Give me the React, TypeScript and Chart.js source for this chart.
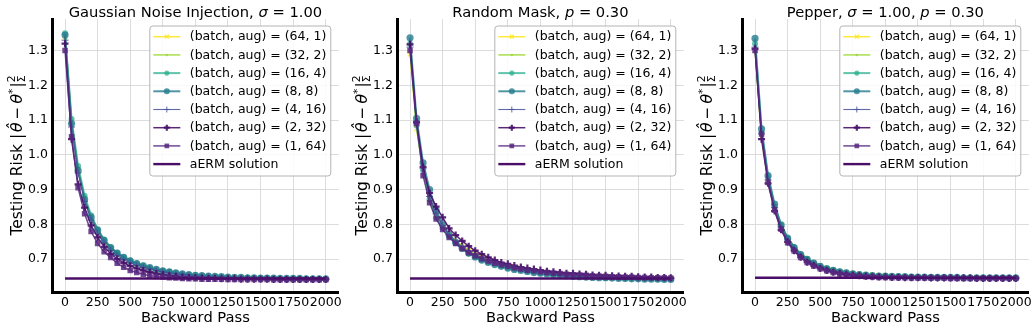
import React, { useEffect, useRef } from "react";
import { Chart, registerables } from "chart.js";
Chart.register(...registerables);

const BACKWARD_PASS = [0, 50, 100, 150, 200, 250, 300, 350, 400, 450, 500, 550, 600, 650, 700, 750, 800, 850, 900, 950, 1000, 1050, 1100, 1150, 1200, 1250, 1300, 1350, 1400, 1450, 1500, 1550, 1600, 1650, 1700, 1750, 1800, 1850, 1900, 1950, 2000];
const X_TICKS = [0, 250, 500, 750, 1000, 1250, 1500, 1750, 2000];
const Y_TICKS = [0.7, 0.8, 0.9, 1.0, 1.1, 1.2, 1.3];
const SERIES_LABELS = ["(batch, aug) = (64, 1)", "(batch, aug) = (32, 2)", "(batch, aug) = (16, 4)", "(batch, aug) = (8, 8)", "(batch, aug) = (4, 16)", "(batch, aug) = (2, 32)", "(batch, aug) = (1, 64)"];
const AERM_LABEL = "aERM solution";

// Gaussian Noise Injection, sigma = 1.00
const G_64_1 = [1.34, 1.095, 0.96, 0.875, 0.82, 0.781, 0.752, 0.730, 0.714, 0.702, 0.693, 0.685, 0.678, 0.673, 0.668, 0.664, 0.661, 0.658, 0.656, 0.654, 0.652, 0.651, 0.650, 0.649, 0.648, 0.647, 0.646, 0.646, 0.645, 0.645, 0.645, 0.644, 0.644, 0.644, 0.643, 0.643, 0.643, 0.643, 0.642, 0.642, 0.642];
const G_32_2 = [1.335, 1.09, 0.958, 0.873, 0.818, 0.779, 0.750, 0.729, 0.713, 0.701, 0.692, 0.684, 0.678, 0.672, 0.668, 0.664, 0.661, 0.658, 0.656, 0.654, 0.652, 0.651, 0.650, 0.649, 0.648, 0.647, 0.646, 0.646, 0.645, 0.645, 0.644, 0.644, 0.644, 0.643, 0.643, 0.643, 0.643, 0.642, 0.642, 0.642, 0.642];
const G_16_4 = [1.35, 1.103, 0.968, 0.882, 0.826, 0.786, 0.756, 0.734, 0.718, 0.706, 0.696, 0.688, 0.681, 0.675, 0.670, 0.666, 0.663, 0.660, 0.657, 0.655, 0.653, 0.652, 0.651, 0.650, 0.649, 0.648, 0.647, 0.647, 0.646, 0.646, 0.645, 0.645, 0.645, 0.644, 0.644, 0.644, 0.644, 0.643, 0.643, 0.643, 0.643];
const G_8_8 = [1.345, 1.09, 0.955, 0.872, 0.82, 0.783, 0.754, 0.733, 0.717, 0.705, 0.695, 0.687, 0.680, 0.675, 0.670, 0.666, 0.663, 0.660, 0.657, 0.655, 0.653, 0.652, 0.651, 0.650, 0.649, 0.648, 0.647, 0.647, 0.646, 0.646, 0.645, 0.645, 0.645, 0.644, 0.644, 0.644, 0.644, 0.643, 0.643, 0.643, 0.643];
const G_4_16 = [1.33, 1.08, 0.948, 0.866, 0.812, 0.774, 0.746, 0.725, 0.710, 0.698, 0.689, 0.682, 0.676, 0.671, 0.667, 0.663, 0.660, 0.657, 0.655, 0.653, 0.651, 0.650, 0.649, 0.648, 0.647, 0.646, 0.646, 0.645, 0.645, 0.644, 0.644, 0.644, 0.643, 0.643, 0.643, 0.643, 0.642, 0.642, 0.642, 0.642, 0.642];
const G_2_32 = [1.32, 1.045, 0.915, 0.848, 0.797, 0.762, 0.735, 0.715, 0.700, 0.689, 0.680, 0.673, 0.667, 0.662, 0.658, 0.655, 0.652, 0.650, 0.648, 0.647, 0.646, 0.645, 0.644, 0.644, 0.643, 0.643, 0.643, 0.642, 0.642, 0.642, 0.642, 0.642, 0.641, 0.641, 0.641, 0.641, 0.641, 0.641, 0.641, 0.641, 0.641];
const G_1_64 = [1.30, 1.052, 0.905, 0.830, 0.779, 0.745, 0.721, 0.704, 0.688, 0.676, 0.667, 0.661, 0.656, 0.652, 0.650, 0.648, 0.646, 0.645, 0.644, 0.643, 0.643, 0.642, 0.642, 0.642, 0.642, 0.641, 0.641, 0.641, 0.641, 0.641, 0.641, 0.641, 0.640, 0.640, 0.640, 0.640, 0.640, 0.640, 0.640, 0.640, 0.640];

// Random Mask, p = 0.30
const R_64_1 = [1.29, 1.075, 0.95, 0.875, 0.825, 0.795, 0.77, 0.752, 0.737, 0.724, 0.713, 0.705, 0.698, 0.692, 0.686, 0.681, 0.677, 0.673, 0.670, 0.667, 0.664, 0.662, 0.660, 0.658, 0.656, 0.655, 0.653, 0.652, 0.651, 0.650, 0.649, 0.648, 0.648, 0.647, 0.646, 0.646, 0.645, 0.645, 0.645, 0.644, 0.644];
const R_32_2 = [1.30, 1.08, 0.955, 0.878, 0.828, 0.797, 0.772, 0.753, 0.738, 0.725, 0.714, 0.706, 0.699, 0.692, 0.687, 0.682, 0.678, 0.674, 0.671, 0.668, 0.665, 0.663, 0.661, 0.659, 0.657, 0.655, 0.654, 0.653, 0.651, 0.650, 0.649, 0.649, 0.648, 0.647, 0.647, 0.646, 0.646, 0.645, 0.645, 0.645, 0.644];
const R_16_4 = [1.32, 1.085, 0.955, 0.872, 0.82, 0.79, 0.765, 0.745, 0.729, 0.716, 0.706, 0.698, 0.691, 0.685, 0.680, 0.675, 0.671, 0.668, 0.665, 0.662, 0.660, 0.658, 0.656, 0.654, 0.653, 0.651, 0.650, 0.649, 0.648, 0.647, 0.646, 0.646, 0.645, 0.644, 0.644, 0.643, 0.643, 0.643, 0.642, 0.642, 0.642];
const R_8_8 = [1.337, 1.105, 0.977, 0.90, 0.84, 0.80, 0.77, 0.748, 0.731, 0.717, 0.706, 0.697, 0.690, 0.684, 0.679, 0.674, 0.670, 0.667, 0.664, 0.661, 0.659, 0.657, 0.655, 0.653, 0.652, 0.650, 0.649, 0.648, 0.647, 0.646, 0.646, 0.645, 0.644, 0.644, 0.643, 0.643, 0.642, 0.642, 0.642, 0.641, 0.641];
const R_4_16 = [1.31, 1.09, 0.96, 0.88, 0.83, 0.796, 0.77, 0.751, 0.735, 0.722, 0.711, 0.703, 0.696, 0.690, 0.684, 0.679, 0.675, 0.672, 0.668, 0.666, 0.663, 0.661, 0.659, 0.657, 0.655, 0.654, 0.652, 0.651, 0.650, 0.649, 0.648, 0.648, 0.647, 0.646, 0.646, 0.645, 0.645, 0.645, 0.644, 0.644, 0.644];
const R_2_32 = [1.318, 1.095, 0.965, 0.89, 0.851, 0.82, 0.788, 0.769, 0.752, 0.737, 0.724, 0.714, 0.705, 0.697, 0.690, 0.686, 0.681, 0.677, 0.674, 0.671, 0.668, 0.665, 0.663, 0.661, 0.659, 0.659, 0.657, 0.656, 0.654, 0.653, 0.653, 0.652, 0.651, 0.650, 0.650, 0.649, 0.648, 0.648, 0.647, 0.647, 0.646];
const R_1_64 = [1.30, 1.09, 0.94, 0.862, 0.815, 0.785, 0.762, 0.745, 0.730, 0.718, 0.709, 0.701, 0.694, 0.688, 0.683, 0.679, 0.675, 0.671, 0.668, 0.666, 0.663, 0.661, 0.659, 0.658, 0.656, 0.655, 0.654, 0.653, 0.652, 0.651, 0.650, 0.649, 0.649, 0.648, 0.648, 0.647, 0.647, 0.646, 0.646, 0.646, 0.645];

// Pepper, sigma = 1.00, p = 0.30
const P_64_1 = [1.30, 1.05, 0.925, 0.85, 0.795, 0.758, 0.732, 0.713, 0.699, 0.688, 0.680, 0.673, 0.668, 0.664, 0.661, 0.659, 0.657, 0.655, 0.654, 0.653, 0.652, 0.651, 0.650, 0.650, 0.649, 0.649, 0.648, 0.648, 0.648, 0.648, 0.647, 0.647, 0.647, 0.647, 0.647, 0.647, 0.646, 0.646, 0.646, 0.646, 0.646];
const P_32_2 = [1.31, 1.055, 0.93, 0.855, 0.80, 0.763, 0.737, 0.717, 0.703, 0.692, 0.683, 0.676, 0.671, 0.666, 0.663, 0.660, 0.658, 0.656, 0.655, 0.654, 0.653, 0.652, 0.651, 0.650, 0.650, 0.649, 0.649, 0.648, 0.648, 0.648, 0.648, 0.647, 0.647, 0.647, 0.647, 0.647, 0.647, 0.646, 0.646, 0.646, 0.646];
const P_16_4 = [1.32, 1.065, 0.935, 0.852, 0.797, 0.76, 0.734, 0.714, 0.700, 0.689, 0.680, 0.674, 0.668, 0.664, 0.661, 0.658, 0.656, 0.655, 0.653, 0.652, 0.651, 0.650, 0.650, 0.649, 0.649, 0.648, 0.648, 0.648, 0.647, 0.647, 0.647, 0.647, 0.647, 0.646, 0.646, 0.646, 0.646, 0.646, 0.646, 0.646, 0.646];
const P_8_8 = [1.335, 1.075, 0.94, 0.858, 0.798, 0.76, 0.733, 0.713, 0.699, 0.688, 0.679, 0.672, 0.667, 0.663, 0.660, 0.657, 0.655, 0.654, 0.652, 0.651, 0.651, 0.650, 0.649, 0.649, 0.648, 0.648, 0.648, 0.647, 0.647, 0.647, 0.647, 0.647, 0.646, 0.646, 0.646, 0.646, 0.646, 0.646, 0.646, 0.646, 0.646];
const P_4_16 = [1.31, 1.06, 0.928, 0.848, 0.792, 0.755, 0.729, 0.710, 0.696, 0.685, 0.677, 0.670, 0.665, 0.661, 0.658, 0.656, 0.654, 0.652, 0.651, 0.650, 0.649, 0.649, 0.648, 0.648, 0.647, 0.647, 0.647, 0.646, 0.646, 0.646, 0.646, 0.646, 0.646, 0.645, 0.645, 0.645, 0.645, 0.645, 0.645, 0.645, 0.645];
const P_2_32 = [1.305, 1.045, 0.918, 0.838, 0.784, 0.749, 0.724, 0.705, 0.691, 0.681, 0.673, 0.667, 0.662, 0.658, 0.655, 0.653, 0.652, 0.650, 0.649, 0.648, 0.648, 0.647, 0.647, 0.646, 0.646, 0.646, 0.646, 0.645, 0.645, 0.645, 0.645, 0.645, 0.645, 0.645, 0.644, 0.644, 0.644, 0.644, 0.644, 0.644, 0.644];
const P_1_64 = [1.30, 1.06, 0.92, 0.841, 0.786, 0.747, 0.723, 0.704, 0.690, 0.680, 0.672, 0.666, 0.661, 0.657, 0.654, 0.652, 0.651, 0.649, 0.648, 0.647, 0.647, 0.646, 0.646, 0.646, 0.645, 0.645, 0.645, 0.645, 0.645, 0.645, 0.644, 0.644, 0.644, 0.644, 0.644, 0.644, 0.644, 0.644, 0.644, 0.644, 0.644];

const AERM_VALUES = [0.644, 0.644, 0.646];

type Seg = { t?: string; it?: boolean; sup?: boolean; stack?: [string, string]; gap?: number };

const TITLES: Seg[][] = [
  [{ t: "Gaussian Noise Injection, " }, { t: "σ", it: true }, { t: " = 1.00" }],
  [{ t: "Random Mask, " }, { t: "p", it: true }, { t: " = 0.30" }],
  [{ t: "Pepper, " }, { t: "σ", it: true }, { t: " = 1.00, " }, { t: "p", it: true }, { t: " = 0.30" }],
];
const Y_LABEL: Seg[] = [
  { t: "Testing Risk " },
  { t: "|" },
  { gap: 2 },
  { t: "θ\u0302", it: true },
  { gap: 3 },
  { t: "−" },
  { gap: 3 },
  { t: "θ", it: true },
  { t: "*", sup: true },
  { gap: 1 },
  { t: "|" },
  { stack: ["2", "Σ"] },
];
const X_LABEL = "Backward Pass";

const STYLES = [
  { color: "rgba(253,231,37,0.9)", width: 1.5, point: "crossRot", r: 3.2, pbw: 1.2 },
  { color: "rgba(160,218,57,0.9)", width: 1.5, point: "circle", r: 1.5, pbw: 0 },
  { color: "rgba(42,176,142,0.75)", width: 2, point: "circle", r: 3, pbw: 0 },
  { color: "rgba(38,124,142,0.8)", width: 2, point: "circle", r: 3.6, pbw: 0 },
  { color: "rgba(72,80,155,0.85)", width: 1.1, point: "cross", r: 3.5, pbw: 1 },
  { color: "rgba(70,16,105,0.9)", width: 1.5, point: "cross", r: 3.5, pbw: 2.2 },
  { color: "rgba(88,40,128,0.85)", width: 1.5, point: "rect", r: 3.9, pbw: 0 },
];
const AERM_STYLE = { color: "#4a0e68", width: 2.4 };

const FAMILY = '"DejaVu Sans"';
const font = (size: number, it?: boolean) => `${it ? "italic " : ""}${size}px ${FAMILY}`;

function segWidth(ctx: CanvasRenderingContext2D, s: Seg, size: number) {
  if (s.gap !== undefined) return s.gap;
  if (s.stack) {
    ctx.font = font(size * 0.7);
    return Math.max(ctx.measureText(s.stack[0]).width, ctx.measureText(s.stack[1]).width);
  }
  ctx.font = font(s.sup ? size * 0.7 : size, s.it);
  return ctx.measureText(s.t || "").width;
}

function drawRich(ctx: CanvasRenderingContext2D, segs: Seg[], cx: number, y: number, size: number) {
  let total = 0;
  for (const s of segs) total += segWidth(ctx, s, size);
  let x = cx - total / 2;
  ctx.textAlign = "left";
  ctx.textBaseline = "alphabetic";
  ctx.fillStyle = "#000";
  for (const s of segs) {
    const w = segWidth(ctx, s, size);
    if (s.gap !== undefined) {
      // spacing only
    } else if (s.stack) {
      ctx.font = font(size * 0.7);
      ctx.fillText(s.stack[0], x, y - size * 0.45);
      ctx.fillText(s.stack[1], x, y + size * 0.22);
    } else {
      const sz = s.sup ? size * 0.7 : size;
      ctx.font = font(sz, s.it);
      ctx.fillText(s.t || "", x, s.sup ? y - size * 0.4 : y);
    }
    x += w;
  }
}

function drawMarker(ctx: CanvasRenderingContext2D, style: string, x: number, y: number, r: number, color: string, bw: number) {
  ctx.save();
  ctx.fillStyle = color;
  ctx.strokeStyle = color;
  ctx.lineWidth = bw;
  ctx.beginPath();
  if (style === "circle") {
    ctx.arc(x, y, r, 0, Math.PI * 2);
    ctx.fill();
  } else if (style === "rect") {
    const s = r * Math.SQRT1_2;
    ctx.fillRect(x - s, y - s, 2 * s, 2 * s);
  } else if (style === "cross") {
    ctx.moveTo(x - r, y); ctx.lineTo(x + r, y);
    ctx.moveTo(x, y - r); ctx.lineTo(x, y + r);
    ctx.stroke();
  } else if (style === "crossRot") {
    const s = r * Math.SQRT1_2;
    ctx.moveTo(x - s, y - s); ctx.lineTo(x + s, y + s);
    ctx.moveTo(x - s, y + s); ctx.lineTo(x + s, y - s);
    ctx.stroke();
  }
  ctx.restore();
}

const decorPlugin = {
  id: "decor",
  afterDraw(chart: any, _args: any, opts: any) {
    const ctx: CanvasRenderingContext2D = chart.ctx;
    const ca = chart.chartArea;
    ctx.save();
    drawRich(ctx, opts.title, (ca.left + ca.right) / 2, 16.5, 14.7);
    ctx.font = font(14.7);
    ctx.fillStyle = "#000";
    ctx.textAlign = "center";
    ctx.textBaseline = "alphabetic";
    ctx.fillText(X_LABEL, (ca.left + ca.right) / 2, 321.5);
    ctx.save();
    ctx.translate(22, (ca.top + ca.bottom) / 2);
    ctx.rotate(-Math.PI / 2);
    drawRich(ctx, Y_LABEL, 0, 0, 15.5);
    ctx.restore();
    const fs = 12.5;
    ctx.font = font(fs);
    let maxW = 0;
    for (const l of SERIES_LABELS) maxW = Math.max(maxW, ctx.measureText(l).width);
    const right = ca.right - 8;
    const top = ca.top + 7;
    const rowH = 18.2;
    const boxW = 40 + maxW + 4.5;
    const left = right - boxW;
    const boxH = rowH * 8 + 4.4;
    ctx.beginPath();
    const rr = 3;
    ctx.moveTo(left + rr, top);
    ctx.arcTo(right, top, right, top + boxH, rr);
    ctx.arcTo(right, top + boxH, left, top + boxH, rr);
    ctx.arcTo(left, top + boxH, left, top, rr);
    ctx.arcTo(left, top, right, top, rr);
    ctx.closePath();
    ctx.fillStyle = "rgba(255,255,255,0.85)";
    ctx.fill();
    ctx.strokeStyle = "#b4b4b4";
    ctx.lineWidth = 1;
    ctx.stroke();
    const entries = [
      ...SERIES_LABELS.map((l, i) => ({ label: l, st: STYLES[i] as any })),
      { label: AERM_LABEL, st: { ...AERM_STYLE, point: "none", r: 0, pbw: 0 } as any },
    ];
    entries.forEach((e, i) => {
      const cy = top + 10.7 + i * rowH;
      const x1 = left + 3.5;
      const x2 = left + 30.5;
      ctx.beginPath();
      ctx.moveTo(x1, cy);
      ctx.lineTo(x2, cy);
      ctx.strokeStyle = e.st.color;
      ctx.lineWidth = e.st.width;
      ctx.stroke();
      if (e.st.point !== "none") drawMarker(ctx, e.st.point, (x1 + x2) / 2, cy, e.st.r * 0.85, e.st.color, e.st.pbw);
      ctx.font = font(fs);
      ctx.fillStyle = "#000";
      ctx.textAlign = "left";
      ctx.textBaseline = "middle";
      ctx.fillText(e.label, left + 40, cy + 0.5);
    });
    ctx.restore();
  },
};

type PanelProps = { title: Seg[]; series: number[][]; aerm: number };

function Panel({ title, series, aerm }: PanelProps) {
  const ref = useRef<HTMLCanvasElement>(null);
  useEffect(() => {
    const datasets: any[] = series.map((vals, i) => {
      const st = STYLES[i];
      return {
        label: SERIES_LABELS[i],
        data: BACKWARD_PASS.map((x, j) => ({ x, y: vals[j] })),
        borderColor: st.color,
        backgroundColor: st.color,
        borderWidth: st.width,
        pointStyle: st.point,
        pointRadius: st.r,
        pointBorderWidth: st.pbw,
        pointBackgroundColor: st.color,
        pointBorderColor: st.color,
        tension: 0,
        order: 8 - i,
      };
    });
    datasets.push({
      label: AERM_LABEL,
      data: [
        { x: BACKWARD_PASS[0], y: aerm },
        { x: BACKWARD_PASS[BACKWARD_PASS.length - 1], y: aerm },
      ],
      borderColor: AERM_STYLE.color,
      borderWidth: AERM_STYLE.width,
      pointRadius: 0,
      order: 0,
    });
    const chart = new Chart(ref.current as HTMLCanvasElement, {
      type: "line",
      data: { datasets },
      options: {
        responsive: false,
        animation: false,
        devicePixelRatio: 1,
        events: [],
        layout: { padding: { top: 19, right: 4, left: 0, bottom: 0 } },
        plugins: {
          legend: { display: false },
          tooltip: { enabled: false },
          title: { display: false },
          decor: { title },
        } as any,
        scales: {
          x: {
            type: "linear",
            min: -100,
            max: 2100,
            afterBuildTicks: (s: any) => {
              s.ticks = X_TICKS.map((v) => ({ value: v }));
            },
            afterFit: (s: any) => {
              s.height = 36;
              s.paddingLeft = 0;
              s.paddingRight = 0;
            },
            ticks: {
              autoSkip: false,
              maxRotation: 0,
              minRotation: 0,
              padding: 3,
              color: "#000",
              font: { family: "DejaVu Sans", size: 12.5 },
              callback: (v: any) => String(v),
            },
            grid: { color: "#dcdcdc", lineWidth: 1, drawTicks: false },
            border: { display: true, color: "#000", width: 3 },
          },
          y: {
            type: "linear",
            min: 0.605,
            max: 1.391,
            afterBuildTicks: (s: any) => {
              s.ticks = Y_TICKS.map((v) => ({ value: v }));
            },
            afterFit: (s: any) => {
              s.width = 52;
              s.paddingTop = 0;
              s.paddingBottom = 0;
            },
            ticks: {
              padding: 4,
              color: "#000",
              font: { family: "DejaVu Sans", size: 12.5 },
              callback: (v: any) => Number(v).toFixed(1),
            },
            grid: { color: "#dcdcdc", lineWidth: 1, drawTicks: false },
            border: { display: true, color: "#000", width: 3 },
          },
        },
      },
      plugins: [decorPlugin],
    } as any);
    return () => chart.destroy();
  }, []);
  return <canvas ref={ref} width={345} height={328} style={{ display: "block", width: 345, height: 328 }} />;
}

const PANEL_SERIES = [
  [G_64_1, G_32_2, G_16_4, G_8_8, G_4_16, G_2_32, G_1_64],
  [R_64_1, R_32_2, R_16_4, R_8_8, R_4_16, R_2_32, R_1_64],
  [P_64_1, P_32_2, P_16_4, P_8_8, P_4_16, P_2_32, P_1_64],
];

export default function App() {
  return (
    <div style={{ position: "absolute", left: 0, top: 0, width: 1035, height: 328, display: "flex", background: "#fff" }}>
      {PANEL_SERIES.map((s, i) => (
        <Panel key={i} title={TITLES[i]} series={s} aerm={AERM_VALUES[i]} />
      ))}
    </div>
  );
}
